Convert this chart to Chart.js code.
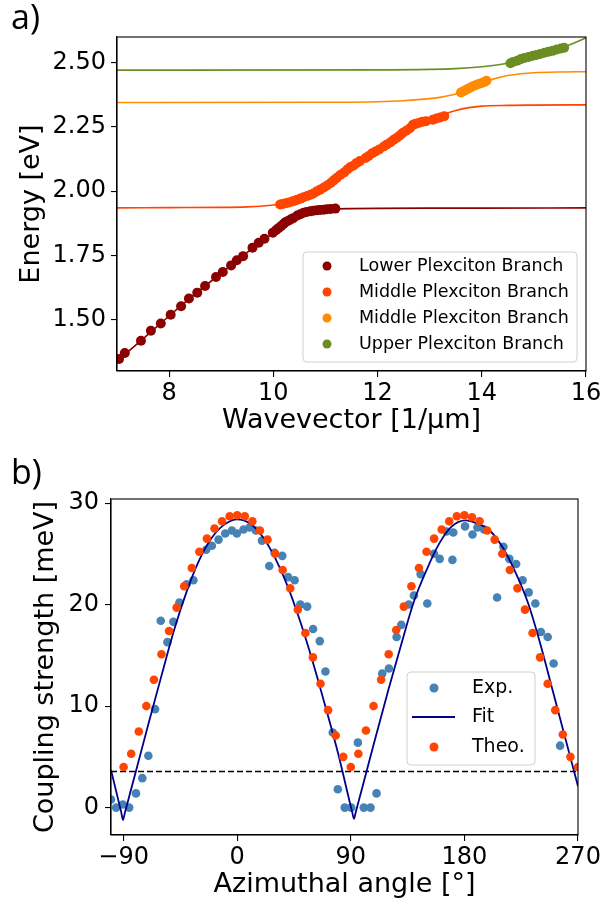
<!DOCTYPE html>
<html>
<head>
<meta charset="utf-8">
<script src="https://cdn.jsdelivr.net/npm/chart.js@4.4.1/dist/chart.umd.min.js"></script>
<style>
  html, body { margin: 0; padding: 0; background: #fff; }
  #wrap { position: relative; width: 603px; height: 909px; overflow: hidden; }
  canvas { position: absolute; left: 0; }
  #chartA { top: 0; }
  #chartB { top: 450px; }
</style>
</head>
<body>
<div id="wrap">
  <canvas id="chartA" width="603" height="450"></canvas>
  <canvas id="chartB" width="603" height="459"></canvas>
</div>
<script>
// ---- panel a) : dispersion, wavevector [1/um] vs energy [eV] ----
const lowerK = [7.04, 7.15, 7.46, 7.65, 7.84, 8.03, 8.23, 8.38, 8.54, 8.69, 8.90, 9.03, 9.19, 9.30, 9.42, 9.60, 9.72, 9.83, 9.99,
  10.05, 10.10, 10.15, 10.20, 10.23, 10.28, 10.33, 10.38, 10.46, 10.52, 10.58, 10.64, 10.71, 10.77, 10.84, 10.90, 10.97, 11.03, 11.10, 11.19];
const lowerE = [1.347, 1.370, 1.418, 1.457, 1.485, 1.519, 1.552, 1.582, 1.605, 1.631, 1.666, 1.685, 1.711, 1.731, 1.747, 1.780, 1.799, 1.815, 1.838,
  1.848, 1.856, 1.864, 1.873, 1.879, 1.884, 1.890, 1.895, 1.905, 1.910, 1.916, 1.919, 1.922, 1.924, 1.926, 1.927, 1.928, 1.930, 1.931, 1.932];

const middleK = [10.13, 10.18, 10.24, 10.30, 10.36, 10.41, 10.46, 10.52, 10.58, 10.65, 10.71, 10.77, 10.84, 10.90, 10.97, 11.03, 11.10, 11.16,
  11.22, 11.29, 11.36, 11.42, 11.48, 11.54, 11.60, 11.66, 11.77, 11.83, 11.90, 11.96, 12.03, 12.12, 12.18, 12.25, 12.31, 12.37, 12.43, 12.48,
  12.55, 12.62, 12.68, 12.73, 12.80, 12.86, 12.93, 13.06, 13.13, 13.20, 13.28];
const middleE = [1.948, 1.950, 1.953, 1.956, 1.960, 1.963, 1.967, 1.971, 1.976, 1.981, 1.986, 1.991, 2.000, 2.006, 2.014, 2.022, 2.032, 2.042,
  2.052, 2.064, 2.073, 2.084, 2.094, 2.100, 2.110, 2.117, 2.129, 2.137, 2.148, 2.154, 2.162, 2.174, 2.182, 2.190, 2.200, 2.208, 2.217, 2.226,
  2.235, 2.245, 2.258, 2.262, 2.266, 2.270, 2.272, 2.278, 2.283, 2.287, 2.292];

const middle2K = [13.60, 13.65, 13.70, 13.76, 13.82, 13.88, 13.94, 14.00, 14.05, 14.09];
const middle2E = [2.384, 2.389, 2.395, 2.401, 2.407, 2.412, 2.417, 2.421, 2.425, 2.430];

const upperK = [14.55, 14.60, 14.68, 14.75, 14.82, 14.90, 14.98, 15.05, 15.12, 15.20, 15.28, 15.36, 15.44, 15.52, 15.58];
const upperE = [2.498, 2.503, 2.508, 2.514, 2.518, 2.522, 2.527, 2.530, 2.534, 2.539, 2.543, 2.546, 2.551, 2.555, 2.558];

// model curves
const lowerLineK = [7, 7.5, 8, 8.5, 9, 9.5, 10, 10.25, 10.5, 10.75, 11, 11.25, 11.5, 12, 13, 14, 16];
const lowerLineE = [1.339, 1.425, 1.514, 1.600, 1.681, 1.762, 1.838, 1.876, 1.905, 1.921, 1.928, 1.931, 1.932, 1.933, 1.934, 1.934, 1.935];
const middleLineK = [7, 8, 9, 9.5, 9.8, 10, 10.25, 10.5, 10.75, 11, 11.25, 11.5, 11.75, 12, 12.25, 12.5, 12.75, 13, 13.25, 13.5, 13.75, 14, 14.5, 15, 16];
const middleLineE = [1.935, 1.936, 1.937, 1.939, 1.942, 1.946, 1.955, 1.969, 1.988, 2.015, 2.056, 2.092, 2.127, 2.161, 2.193, 2.229, 2.258, 2.279, 2.298, 2.314, 2.325, 2.331, 2.334, 2.335, 2.336];
const middle2LineK = [7, 11, 12, 12.5, 13, 13.25, 13.5, 13.75, 14, 14.25, 14.5, 14.75, 15, 15.5, 16];
const middle2LineE = [2.345, 2.346, 2.348, 2.352, 2.360, 2.367, 2.378, 2.397, 2.420, 2.438, 2.450, 2.457, 2.461, 2.464, 2.465];
const upperLineK = [7, 12, 13, 13.5, 14, 14.25, 14.5, 14.75, 15, 15.25, 15.5, 15.75, 16];
const upperLineE = [2.471, 2.472, 2.474, 2.477, 2.484, 2.490, 2.499, 2.512, 2.527, 2.541, 2.556, 2.575, 2.597];

const branchLabels = ['Lower Plexciton Branch', 'Middle Plexciton Branch', 'Middle Plexciton Branch', 'Upper Plexciton Branch'];
const kTicks = [8, 10, 12, 14, 16];
const energyTicks = [1.50, 1.75, 2.00, 2.25, 2.50];

// ---- panel b) : coupling strength vs azimuthal angle ----
const expAngle = [-100, -95.9, -90.6, -85.6, -80.2, -75.2, -70.4, -65.1, -60.6, -55.3, -50.6, -45.8, -40.0, -34.7, -24.6, -20.1, -14.8, -9.5,
  -4.2, -0.3, 5.0, 9.8, 14.8, 19.6, 25.4, 29.6, 35.7, 40.3, 45.5, 50.0, 55.4, 60.1, 65.4, 69.9, 75.7, 79.7, 85.2, 90.3, 95.6, 100.3, 105.6,
  110.4, 114.9, 120.2, 126.3, 130.0, 136.0, 140.0, 145.3, 150.6, 155.9, 160.4, 165.9, 170.5, 171.2, 180.5, 186.4, 190.3, 195.6, 205.9,
  210.9, 215.6, 221.0, 226.1, 230.9, 236.2, 240.6, 246.0, 250.7, 255.8];
const expCoupling = [0.8, 0.0, 0.3, 0.0, 1.4, 2.9, 5.1, 9.7, 18.4, 16.3, 18.3, 20.2, 22.0, 22.4, 25.4, 25.8, 26.4, 27.0,
  27.3, 27.0, 27.4, 27.6, 27.3, 26.3, 23.8, 25.1, 24.8, 22.7, 22.4, 20.0, 19.8, 17.6, 16.4, 13.4, 7.4, 1.8, 0.0, 0.0, 6.4, 0.0, 0.0,
  1.4, 13.2, 13.7, 16.8, 18.0, 20.0, 20.9, 23.0, 20.1, 25.0, 24.5, 27.2, 24.4, 27.1, 27.7, 26.9, 27.6, 27.4, 20.7,
  25.7, 24.5, 24.0, 22.4, 21.2, 20.1, 17.3, 16.8, 14.2, 6.1];

const theoAngle = [-90, -84, -78, -72, -66, -60, -54, -48, -42, -36, -30, -24, -18, -12, -6, 0, 6, 12, 18, 24, 30, 36, 42, 48, 54, 60,
  66, 72, 78, 84, 90, 96, 102, 108, 114, 120, 126, 132, 138, 144, 150, 156, 162, 168, 174, 180, 186, 192, 198, 204, 210, 216, 222,
  228, 234, 240, 246, 252, 258, 264, 270];
const theoCoupling = [4.0, 5.3, 7.5, 10.0, 12.6, 15.1, 17.4, 19.7, 21.8, 23.6, 25.2, 26.5, 27.5, 28.2, 28.7, 28.8, 28.7, 28.2, 27.3, 26.4,
  25.0, 23.4, 21.6, 19.5, 17.2, 14.8, 12.2, 9.6, 7.1, 5.0, 4.0, 5.3, 7.6, 10.0, 12.6, 15.1, 17.5, 19.8, 21.8, 23.6, 25.2, 26.5, 27.4,
  28.2, 28.7, 28.8, 28.6, 28.2, 27.3, 26.4, 25.0, 23.4, 21.6, 19.5, 17.2, 14.8, 12.2, 9.6, 7.2, 5.0, 4.0];

const fitAngle = [-100, -92, -90.5, -89, -80, -70, -60, -50, -40, -30, -20, -10, 0, 10, 20, 30, 40, 50, 60, 70, 80, 91, 92.5, 94,
  100, 110, 120, 130, 140, 150, 160, 170, 181, 190, 200, 210, 220, 230, 240, 250, 260, 270];
const fitCoupling = [3.7, -0.4, -1.2, -0.5, 3.7, 8.4, 13.0, 17.5, 21.3, 24.4, 26.6, 27.9, 28.4, 28.0, 26.7, 24.6, 21.8, 18.3, 14.3, 9.9,
  5.3, -0.4, -1.1, -0.4, 2.4, 7.1, 11.7, 16.1, 20.3, 23.4, 26.0, 27.7, 28.3, 28.0, 27.3, 25.7, 23.3, 20.3, 16.2, 11.5, 6.8, 2.1];

const thresholdAngle = [-100, 270];
const thresholdCoupling = [3.55, 3.55];

const angleTicks = [-90, 0, 90, 180, 270];
const couplingTicks = [0, 10, 20, 30];

// ------------------------------------------------------------------
const FONT = '"DejaVu Sans", sans-serif';

function pairs(xs, ys) {
    return xs.map((x, i) => ({ x: x, y: ys[i] }));
}

function fixedTicks(values) {
    return scale => { scale.ticks = values.map(v => ({ value: v })); };
}

// frame, panel letter and in-axes legend
const decor = {
    id: 'decor',
    afterDatasetsDraw(chart) {
        const { ctx, chartArea: a } = chart;
        ctx.save();
        ctx.strokeStyle = '#000';
        ctx.lineWidth = 1.1;
        ctx.strokeRect(a.left, a.top, a.right - a.left, a.bottom - a.top);
        ctx.restore();
    },
    afterDraw(chart, args, o) {
        const ctx = chart.ctx;
        ctx.save();
        ctx.fillStyle = '#000';
        ctx.font = '34px "Open Sans", sans-serif';
        ctx.textBaseline = 'alphabetic';
        ctx.textAlign = 'left';
        ctx.fillText(o.panel, o.panelX, o.panelY);

        const L = o.legend;
        ctx.beginPath();
        if (ctx.roundRect) ctx.roundRect(L.x, L.y, L.w, L.h, 4);
        else ctx.rect(L.x, L.y, L.w, L.h);
        ctx.fillStyle = 'rgba(255,255,255,0.8)';
        ctx.fill();
        ctx.strokeStyle = '#d0d0d0';
        ctx.lineWidth = 1;
        ctx.stroke();

        ctx.font = L.font;
        ctx.textBaseline = 'middle';
        chart.data.datasets.forEach(d => {
            if (d.legendRow === undefined) return;
            const y = L.rowY[d.legendRow];
            if (d.showLine) {
                ctx.strokeStyle = d.borderColor;
                ctx.lineWidth = d.borderWidth;
                ctx.beginPath();
                ctx.moveTo(L.lineX0, y);
                ctx.lineTo(L.lineX1, y);
                ctx.stroke();
            } else {
                ctx.fillStyle = d.backgroundColor;
                ctx.beginPath();
                ctx.arc(L.markerX, y, L.markerR, 0, Math.PI * 2);
                ctx.fill();
            }
            ctx.fillStyle = '#000';
            ctx.fillText(d.label, L.textX, y);
        });
        ctx.restore();
    }
};

function scatterSet(label, xs, ys, color, r, row, order) {
    return {
        label: label, data: pairs(xs, ys), showLine: false,
        backgroundColor: color, borderColor: color, borderWidth: 0,
        pointRadius: r, pointHoverRadius: r, legendRow: row, order: order, clip: 0
    };
}

function lineSet(label, xs, ys, color, width, order, dash) {
    return {
        label: label, data: pairs(xs, ys), showLine: true, pointRadius: 0,
        borderColor: color, backgroundColor: color, borderWidth: width,
        borderDash: dash || [], cubicInterpolationMode: 'monotone', order: order, clip: 0
    };
}

function axisStyle(extra) {
    return Object.assign({
        type: 'linear',
        grid: { drawOnChartArea: false, drawTicks: true, tickLength: 6, color: '#000', lineWidth: 1.1 },
        border: { display: true, color: '#000', width: 1.1 },
    }, extra);
}

// ---- chart a) ----
new Chart(document.getElementById('chartA'), {
    type: 'scatter',
    data: {
        datasets: [
            scatterSet(branchLabels[0], lowerK, lowerE, '#8b0000', 5, 0, 0),
            scatterSet(branchLabels[1], middleK, middleE, '#ff4500', 5, 1, 0),
            scatterSet(branchLabels[2], middle2K, middle2E, '#ff8c00', 5, 2, 0),
            scatterSet(branchLabels[3], upperK, upperE, '#6b8e23', 5, 3, 0),
            lineSet('lower fit', lowerLineK, lowerLineE, '#8b0000', 1.6, 1),
            lineSet('middle fit', middleLineK, middleLineE, '#ff4500', 1.6, 1),
            lineSet('middle 2 fit', middle2LineK, middle2LineE, '#ff8c00', 1.6, 1),
            lineSet('upper fit', upperLineK, upperLineE, '#6b8e23', 1.6, 1)
        ]
    },
    options: {
        responsive: false,
        animation: false,
        devicePixelRatio: 1,
        layout: { padding: { top: 37, right: 17, left: 0, bottom: 0 } },
        scales: {
            x: axisStyle({
                min: 7, max: 16,
                afterBuildTicks: fixedTicks(kTicks),
                afterFit(s) { s.height = 79; s.paddingLeft = 0; s.paddingRight = 0; },
                ticks: { color: '#000', font: { family: FONT, size: 24 }, padding: 2, maxRotation: 0,
                    callback: v => String(v) },
                title: { display: true, text: 'Wavevector [1/µm]', color: '#000',
                    font: { family: FONT, size: 27, lineHeight: 1.2 }, padding: { top: 0, bottom: 13 } }
            }),
            y: axisStyle({
                min: 1.30, max: 2.60,
                afterBuildTicks: fixedTicks(energyTicks),
                afterFit(s) { s.width = 117; s.paddingTop = 0; s.paddingBottom = 0; },
                ticks: { color: '#000', font: { family: FONT, size: 24 }, padding: 5,
                    callback: v => Number(v).toFixed(2) },
                title: { display: true, text: 'Energy [eV]', color: '#000',
                    font: { family: FONT, size: 27, lineHeight: 1.2 }, padding: { top: 16, bottom: 0 } }
            })
        },
        plugins: {
            legend: { display: false },
            tooltip: { enabled: false },
            decor: {
                panel: 'a)', panelX: 11, panelY: 29,
                legend: { x: 303, y: 252, w: 274, h: 110, rowY: [266, 292, 318, 344],
                    markerX: 327, markerR: 4.5, textX: 359, font: '17.5px ' + FONT }
            }
        }
    },
    plugins: [decor]
});

// ---- chart b) ----
new Chart(document.getElementById('chartB'), {
    type: 'scatter',
    data: {
        datasets: [
            scatterSet('Exp.', expAngle, expCoupling, '#4682b4', 4.3, 0, 3),
            Object.assign(lineSet('Fit', fitAngle, fitCoupling, '#00008b', 1.8, 1), { legendRow: 1 }),
            scatterSet('Theo.', theoAngle, theoCoupling, '#ff4500', 4.3, 2, 0),
            lineSet('threshold', thresholdAngle, thresholdCoupling, '#000', 1.5, 2, [6, 3])
        ]
    },
    options: {
        responsive: false,
        animation: false,
        devicePixelRatio: 1,
        layout: { padding: { top: 49, right: 25, left: 0, bottom: 0 } },
        scales: {
            x: axisStyle({
                min: -100, max: 270,
                afterBuildTicks: fixedTicks(angleTicks),
                afterFit(s) { s.height = 74; s.paddingLeft = 0; s.paddingRight = 0; },
                ticks: { color: '#000', font: { family: FONT, size: 24 }, padding: 2, maxRotation: 0,
                    callback: v => (v < 0 ? '\u2212' + Math.abs(v) : String(v)) },
                title: { display: true, text: 'Azimuthal angle [°]', color: '#000',
                    font: { family: FONT, size: 27, lineHeight: 1.2 }, padding: { top: 0, bottom: 8 } }
            }),
            y: axisStyle({
                min: -2.7, max: 30.4,
                afterBuildTicks: fixedTicks(couplingTicks),
                afterFit(s) { s.width = 111; s.paddingTop = 0; s.paddingBottom = 0; },
                ticks: { color: '#000', font: { family: FONT, size: 24 }, padding: 6,
                    callback: v => String(v) },
                title: { display: true, text: 'Coupling strength [meV]', color: '#000',
                    font: { family: FONT, size: 27, lineHeight: 1.2 }, padding: { top: 30, bottom: 0 } }
            })
        },
        plugins: {
            legend: { display: false },
            tooltip: { enabled: false },
            decor: {
                panel: 'b)', panelX: 11, panelY: 34,
                legend: { x: 407, y: 222, w: 128, h: 93, rowY: [238, 267, 297],
                    markerX: 434, markerR: 4.5, lineX0: 412, lineX1: 455, textX: 472, font: '19px ' + FONT }
            }
        }
    },
    plugins: [decor]
});
</script>
</body>
</html>
